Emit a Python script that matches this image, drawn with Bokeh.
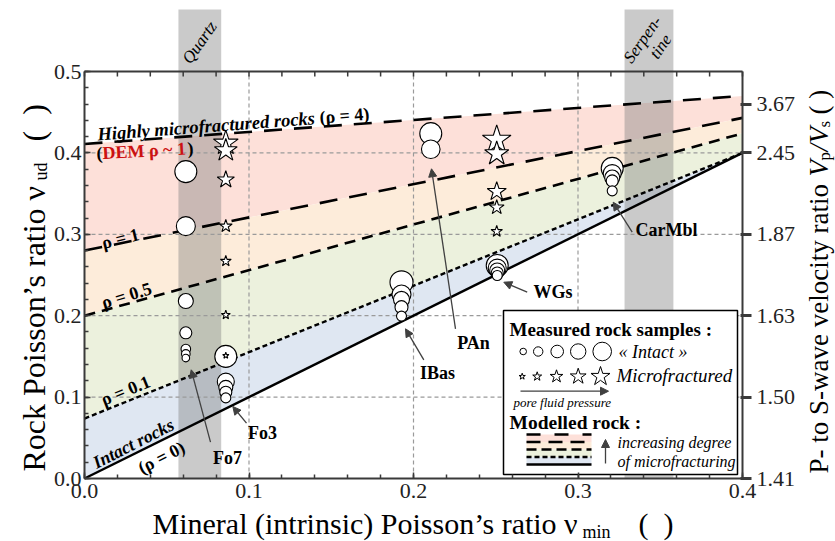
import numpy as np
from bokeh.plotting import figure
from bokeh.models import Range1d, LinearAxis, FixedTicker, Label, Arrow, NormalHead
from bokeh.embed import file_html
from bokeh.resources import INLINE

# ---------------- data ----------------
nu_min_ends = [0.0, 0.4]            # mineral Poisson's ratio at both ends of model lines
model_rho4 = [0.411, 0.470]         # highly microfractured (rho = 4)
model_rho1 = [0.280, 0.443]
model_rho05 = [0.200, 0.424]
model_rho01 = [0.0736, 0.400]
model_rho0 = [0.000, 0.400]         # intact rocks

quartz_nu = [0.0571, 0.0831]
serpentine_nu = [0.3283, 0.3580]

# measured "intact" samples (circles)
circle_x = [0.0616, 0.0616, 0.0616, 0.0616, 0.0616, 0.0616, 0.0616,
            0.0859, 0.0859, 0.0859, 0.0859, 0.0859,
            0.1927, 0.1927, 0.1927, 0.1927, 0.1927,
            0.2509, 0.2509, 0.2509, 0.2509, 0.2509,
            0.3208, 0.3208, 0.3208, 0.3208, 0.3208,
            0.2105, 0.2105]
circle_y = [0.377, 0.310, 0.218, 0.179, 0.159, 0.153, 0.148,
            0.150, 0.119, 0.112, 0.106, 0.099,
            0.241, 0.226, 0.220, 0.2105, 0.1995,
            0.2617, 0.2585, 0.2555, 0.2525, 0.2494,
            0.381, 0.3746, 0.3697, 0.3656, 0.3534,
            0.4237, 0.4045]
circle_d = [22, 19, 15, 12, 9.6, 8.6, 7.6,
            22, 17, 14, 12, 10,
            23, 19, 16, 13, 10,
            22, 18, 15, 12, 10,
            22, 18, 15, 12, 10,
            22, 18.6]

# measured microfractured samples (stars)
star_x = [0.0859, 0.0859, 0.0859, 0.0859, 0.0859, 0.0859, 0.0859,
          0.2506, 0.2506, 0.2506, 0.2506, 0.2506]
star_y = [0.412, 0.403, 0.367, 0.310, 0.267, 0.201, 0.151,
          0.416, 0.399, 0.3525, 0.333, 0.3035]
star_d = [26, 24, 18, 13.4, 11.4, 9.4, 6.6,
          30, 25.4, 20, 15.4, 12]

x_major = [0.0, 0.1, 0.2, 0.3, 0.4]
x_labels = ["0.0", "0.1", "0.2", "0.3", "0.4"]
y_major = [0.0, 0.1, 0.2, 0.3, 0.4, 0.5]
y_labels = ["0.0", "0.1", "0.2", "0.3", "0.4", "0.5"]
vpvs_pos = [0.0, 0.1, 0.2, 0.3, 0.4, 0.46]
vpvs_labels = ["1.41", "1.50", "1.63", "1.87", "2.45", "3.67"]

# ---------------- styling ----------------
FONT = "Liberation Serif"
PINK, ORANGE, GREEN, BLUE = "#fde0d9", "#fdecda", "#ecf1dd", "#dfe7f2"
AXC = "#3a3a3a"
ARC = "#404040"
W, H = 835, 541
NB = "\u00a0"

def ax(px):   # canvas pixel -> data x (for annotation placement)
    return (px - 84) / 1645.0

def ay(py):   # canvas pixel -> data y
    return (478 - py) / 814.0

p = figure(width=W, height=H, x_range=Range1d(ax(0), ax(W)), y_range=Range1d(ay(H), ay(0)),
           output_backend="svg", toolbar_location=None, title=None,
           min_border_left=0, min_border_right=0, min_border_top=0, min_border_bottom=0,
           x_axis_type=None, y_axis_type=None)
p.outline_line_color = None
p.background_fill_color = "white"
p.border_fill_color = "white"

# shaded regions between model lines
p.varea(x=nu_min_ends, y1=model_rho1, y2=model_rho4, fill_color=PINK)
p.varea(x=nu_min_ends, y1=model_rho05, y2=model_rho1, fill_color=ORANGE)
p.varea(x=nu_min_ends, y1=model_rho01, y2=model_rho05, fill_color=GREEN)
p.varea(x=nu_min_ends, y1=model_rho0, y2=model_rho01, fill_color=BLUE)

# mineral bands
p.quad(left=[quartz_nu[0], serpentine_nu[0]], right=[quartz_nu[1], serpentine_nu[1]],
       bottom=0, top=ay(9), fill_color="#808080", fill_alpha=0.42, line_color=None)

# grid
gx = [0.1, 0.2, 0.3]
p.segment(x0=gx, y0=[0] * 3, x1=gx, y1=[0.5] * 3, line_color="#9a9a9a", line_width=1.2, line_dash="4 3")
gy = [0.1, 0.2, 0.3, 0.4]
p.segment(x0=[0] * 4, y0=gy, x1=[0.4] * 4, y1=gy, line_color="#9a9a9a", line_width=1.2, line_dash="4 3")

# model lines
p.line(nu_min_ends, model_rho4, line_color="black", line_width=2.6, line_dash="18 12")
p.line(nu_min_ends, model_rho1, line_color="black", line_width=2.6, line_dash="18 12")
p.line(nu_min_ends, model_rho05, line_color="black", line_width=2.6, line_dash="11 7")
p.line(nu_min_ends, model_rho01, line_color="black", line_width=2.4, line_dash="5 3")
p.line(nu_min_ends, model_rho0, line_color="black", line_width=2.4)

# measured samples
p.scatter(x=circle_x, y=circle_y, size=circle_d, marker="circle",
          fill_color="white", line_color="black", line_width=1.1)
p.scatter(x=star_x, y=star_y, size=star_d, marker="star",
          fill_color="white", line_color="black", line_width=1.1)

# top frame line with inward ticks
p.line([0, 0.4], [0.5, 0.5], line_color=AXC, line_width=2)
tx = list(np.round(np.arange(0, 0.4001, 0.02), 3))
p.segment(x0=tx, y0=[0.5] * len(tx), x1=tx, y1=[0.5 - 5 / 814] * len(tx), line_color=AXC, line_width=1.5)

# axes (placed at fixed data locations inside the full-canvas frame)
def style_axis(a):
    a.axis_line_color = AXC
    a.axis_line_width = 2
    a.major_tick_line_color = AXC
    a.minor_tick_line_color = AXC
    a.major_tick_line_width = 1.5
    a.minor_tick_line_width = 1.5
    a.major_label_text_font = FONT
    a.major_label_text_font_size = "22px"
    a.major_label_text_color = "#222222"

xaxis = LinearAxis(ticker=FixedTicker(ticks=x_major, minor_ticks=list(np.round(np.arange(0, 0.4001, 0.02), 3))),
                   bounds=(0, 0.4), fixed_location=0)
xaxis.major_label_overrides = {v: s for v, s in zip(x_major, x_labels)}
style_axis(xaxis)
xaxis.major_tick_in, xaxis.major_tick_out = 6, 0
xaxis.minor_tick_in, xaxis.minor_tick_out = 4, 0
xaxis.major_label_standoff = 5
p.add_layout(xaxis, "below")

yaxis = LinearAxis(ticker=FixedTicker(ticks=y_major, minor_ticks=list(np.round(np.arange(0, 0.5001, 0.02), 3))),
                   bounds=(0, 0.5), fixed_location=0)
yaxis.major_label_overrides = {v: s for v, s in zip(y_major, y_labels)}
style_axis(yaxis)
yaxis.major_tick_in, yaxis.major_tick_out = 6, 0
yaxis.minor_tick_in, yaxis.minor_tick_out = 4, 0
yaxis.major_label_standoff = 3
p.add_layout(yaxis, "left")

raxis = LinearAxis(ticker=FixedTicker(ticks=vpvs_pos, minor_ticks=[]), bounds=(0, 0.5), fixed_location=0.4)
raxis.major_label_overrides = {v: s for v, s in zip(vpvs_pos, vpvs_labels)}
style_axis(raxis)
raxis.major_tick_in, raxis.major_tick_out = 2, 9
raxis.major_tick_line_width = 3
raxis.minor_tick_in, raxis.minor_tick_out = 0, 0
raxis.major_label_standoff = 5
p.add_layout(raxis, "right")

def lab(text, px, py, size="18px", style="bold", angle=0, align="center", baseline="middle", color="black"):
    p.add_layout(Label(x=ax(px), y=ay(py), text=text, angle=angle, angle_units="deg",
                       text_font=FONT, text_font_size=size, text_font_style=style,
                       text_color=color, text_align=align, text_baseline=baseline))

# axis titles (with subscripts)
lab("Mineral (intrinsic) Poisson’s ratio ν", 152, 523, size="30px", style="normal", align="left", baseline="alphabetic")
lab("min", 582, 531, size="18px", style="normal", align="left", baseline="alphabetic")
lab("(" + NB * 2 + ")", 638, 523, size="30px", style="normal", align="left", baseline="alphabetic")

lab("Rock Poisson’s ratio ν", 33, 471, size="32px", style="normal", angle=90, align="left", baseline="alphabetic")
lab("ud", 40, 180, size="18px", style="normal", angle=90, align="left", baseline="alphabetic")
lab("(" + NB * 2 + ")", 33, 141, size="32px", style="normal", angle=90, align="left", baseline="alphabetic")

lab("P- to S-wave velocity ratio", 818, 473, size="27px", style="normal", angle=90, align="left", baseline="alphabetic")
lab("V", 818, 176, size="27px", style="italic", angle=90, align="left", baseline="alphabetic")
lab("p", 824, 160, size="17px", style="normal", angle=90, align="left", baseline="alphabetic")
lab("/", 818, 151, size="27px", style="italic", angle=90, align="left", baseline="alphabetic")
lab("V", 818, 143, size="27px", style="italic", angle=90, align="left", baseline="alphabetic")
lab("s", 824, 127, size="17px", style="normal", angle=90, align="left", baseline="alphabetic")
lab("(" + NB + ")", 818, 114, size="27px", style="normal", angle=90, align="left", baseline="alphabetic")

# band labels
lab("Quartz", 199, 42, size="17px", style="italic", angle=55)
lab("Serpen-", 642, 39, size="17px", style="italic", angle=55)
lab("tine", 660, 46, size="17px", style="italic", angle=55)

# model line labels
lab("Highly microfractured rocks", 97, 134, size="18.5px", style="bold italic", angle=4.3, align="left")
lab("(ρ = 4)", 319, 117, style="bold", angle=4.3, align="left")
lab("(", 96, 153, style="bold", angle=3, align="left")
lab("DEM ρ ~ 1", 102, 152.5, style="bold", angle=3, align="left", color="#cc1111")
lab(")", 187, 148, style="bold", angle=3, align="left")
lab("ρ = 1", 120, 238, angle=14)
lab("ρ = 0.5", 126, 295, angle=17)
lab("ρ = 0.1", 125, 390, angle=22)
lab("Intact rocks", 133, 443, style="bold italic", angle=27)
lab("(ρ = 0)", 161, 457, angle=27)

# sample labels with arrows
lab("Fo7", 227, 457)
lab("Fo3", 262, 432)
lab("IBas", 437, 372)
lab("PAn", 473, 342)
lab("WGs", 533, 291, align="left")
lab("CarMbl", 666, 229)

def arrow(x0, y0, x1, y1, size=8):
    p.add_layout(Arrow(end=NormalHead(size=size, fill_color=ARC, line_color=ARC),
                       x_start=ax(x0), y_start=ay(y0), x_end=ax(x1), y_end=ay(y1),
                       line_color=ARC, line_width=1.3))

arrow(210, 441.7, 190.7, 369.3)
arrow(246, 422.7, 232.3, 406)
arrow(423.3, 359.3, 405, 328.3)
arrow(455, 328.3, 431, 168.3)
arrow(526.7, 291.7, 503.3, 281.7)
arrow(631.7, 231.7, 612.7, 201.7)

# ---------------- custom legend ----------------
p.quad(left=ax(503), right=ax(737), bottom=ay(474), top=ay(310),
       fill_color="white", line_color="black", line_width=1.5)
lab("Measured rock samples :", 509, 329, size="19px", style="bold", align="left")
leg_x_c = [522.7, 537.7, 556.7, 577.7, 601.7]
leg_d_c = [6.6, 9.4, 12.6, 15.4, 18.6]
p.scatter(x=[ax(v) for v in leg_x_c], y=[ay(351)] * 5, size=leg_d_c, marker="circle",
          fill_color="white", line_color="black", line_width=1)
lab("« Intact »", 618, 351, style="italic", align="left")
leg_x_s = [521.7, 536.7, 556, 577.7, 600]
leg_d_s = [6.6, 9.4, 13.4, 16.6, 20]
p.scatter(x=[ax(v) for v in leg_x_s], y=[ay(376)] * 5, size=leg_d_s, marker="star",
          fill_color="white", line_color="black", line_width=1)
lab("Microfractured", 616, 375, size="19px", style="italic", align="left")
arrow(520, 390.7, 608, 390.7, size=8)
lab("pore fluid pressure", 513, 402, size="13px", style="italic", align="left")
lab("Modelled rock :", 509, 422, size="19.5px", style="bold", align="left")

sw_l, sw_r = ax(526), ax(591)
rows = [434, 441.5, 449, 456.5, 464]
for (t, b, c) in zip(rows[:-1], rows[1:], [PINK, ORANGE, GREEN, BLUE]):
    p.quad(left=sw_l, right=sw_r, bottom=ay(b), top=ay(t), fill_color=c, line_color=None)
for yy, dash, w in zip(rows, ["14 14", "14 8", "10 5", "5 3", "solid"], [2.6, 2.6, 2.6, 2.4, 2.6]):
    p.line([sw_l, sw_r], [ay(yy), ay(yy)], line_color="black", line_width=w, line_dash=dash)
arrow(605, 463, 605, 439, size=8)
lab("increasing degree", 617, 442, size="16px", style="italic", align="left")
lab("of microfracturing", 617, 461, size="16px", style="italic", align="left")

open("out.html", "w").write(file_html(p, INLINE))
